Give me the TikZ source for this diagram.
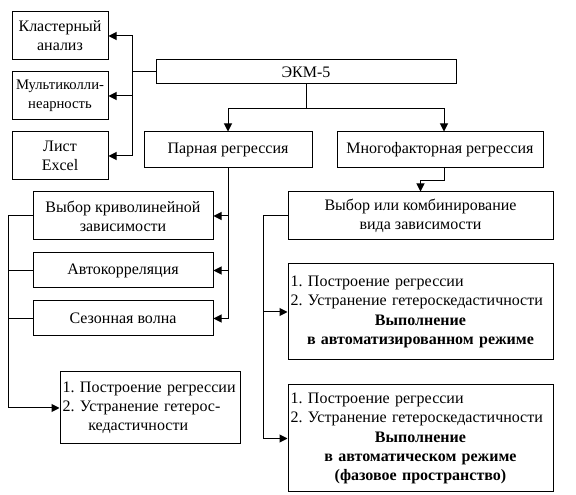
\documentclass[tikz,border=0pt]{standalone}
\usepackage{fontspec}
\setmainfont{Liberation Serif}
\usetikzlibrary{arrows.meta}
\frenchspacing
\newcommand{\boldmid}[1]{\makebox[194.75pt]{\textbf{#1}}}
\begin{document}
\begin{tikzpicture}[x=0.75pt, y=-0.75pt, line width=0.75pt, >={Triangle[length=6pt,width=6pt]},
  blk/.style={draw, align=center, inner sep=2pt, font=\fontsize{12}{14.4}\selectfont}]
\useasboundingbox (0,0) rectangle (576,495);
\node[blk, minimum width=72pt, minimum height=36pt] (klast) at (60,36) {Кластерный\\анализ};
\node[blk, minimum width=72pt, minimum height=36pt, font=\fontsize{11}{14.4}\selectfont] (multi) at (60,96) {Мультиколли-\\неарность};
\node[blk, minimum width=72pt, minimum height=36pt] (list) at (60,156) {Лист\\Excel};
\node[blk, minimum width=225pt, minimum height=18pt] (ekm) at (306,72) {ЭКМ-5};
\node[blk, minimum width=126pt, minimum height=27pt] (par) at (228,150) {Парная регрессия};
\node[blk, minimum width=154.5pt, minimum height=27pt] (mnog) at (440,150) {Многофакторная регрессия};
\node[blk, minimum width=198.75pt, minimum height=36pt] (vybor) at (420.5,216) {Выбор или комбинирование\\вида зависимости};
\node[blk, minimum width=135pt, minimum height=36pt] (kriv) at (123,216) {Выбор криволинейной\\зависимости};
\node[blk, minimum width=135pt, minimum height=26.25pt] (avto) at (123,270.5) {Автокорреляция};
\node[blk, minimum width=135pt, minimum height=26.25pt] (sez) at (123,318.5) {Сезонная волна};
\node[blk, align=left, text width=131pt, minimum height=54pt] (postr) at (150,408)
  {\mbox{1. Построение регрессии}\\\mbox{2. Устранение гетерос-}\\\hspace*{1.6em}кедастичности};
\node[blk, align=left, text width=194.75pt, minimum height=72pt] (autoa) at (420.5,312)
  {1. Построение регрессии\\\mbox{2. Устранение гетероскедастичности}\\
   \boldmid{Выполнение}\\\boldmid{в автоматизированном режиме}};
\node[blk, align=left, text width=194.75pt, minimum height=80.25pt] (autob) at (420.5,438.5)
  {1. Построение регрессии\\\mbox{2. Устранение гетероскедастичности}\\
   \boldmid{Выполнение}\\\boldmid{в автоматическом режиме}\\\boldmid{(фазовое пространство)}};
% top part
\draw[->] (ekm.west) -- ++(-23,0) |- (klast.east);
\draw[->] (ekm.west) -- ++(-23,0) |- (multi.east);
\draw[->] (ekm.west) -- ++(-23,0) |- (list.east);
\draw[->] (ekm.south) -- ++(0,24) -| (par.north);
\draw[->] (ekm.south) -- ++(0,24) -| ([xshift=3pt]mnog.north);
\draw[->] ([xshift=3pt]mnog.south) -- ++(0,12) -| (vybor.north);
% pair regression
\draw[->] (par.south) |- (kriv.east);
\draw[->] (par.south) |- (avto.east);
\draw[->] (par.south) |- (sez.east);
\draw[->] (kriv.west) -- ++(-24,0) |- (postr.west);
\draw (avto.west) -- ++(-24,0);
\draw (sez.west) -- ++(-24,0);
% multifactor
\draw[->] (vybor.west) -- ++(-24,0) |- (autoa.west);
\draw[->] (vybor.west) -- ++(-24,0) |- (autob.west);
\end{tikzpicture}
\end{document}
